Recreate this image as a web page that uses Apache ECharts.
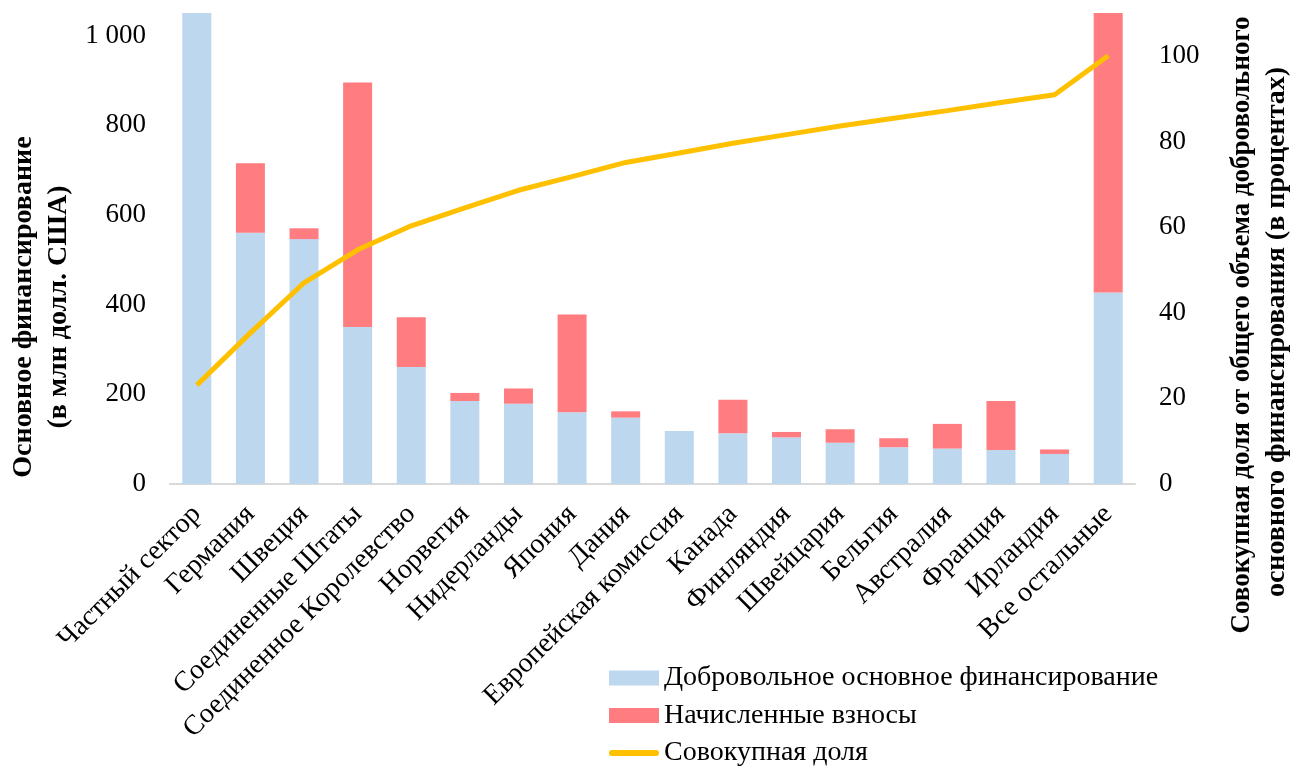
<!DOCTYPE html>
<html><head><meta charset="utf-8">
<script src="https://cdn.jsdelivr.net/npm/echarts@6/dist/echarts.min.js"></script>
<style>html,body{margin:0;padding:0;background:#fff}#c{width:1291px;height:766px}</style>
</head><body><div id="c"></div>
<script>
const categories = ['Частный сектор','Германия','Швеция','Соединенные Штаты','Соединенное Королевство','Норвегия','Нидерланды','Япония','Дания','Европейская комиссия','Канада','Финляндия','Швейцария','Бельгия','Австралия','Франция','Ирландия','Все остальные'];
const voluntary = [1060,560,546,350,261,185,179,160,148,118,113,104,92,82,79,76,67,427];
const assessed  = [0,155,24,545,111,18,34,218,14,0,75,12,30,20,55,109,10,680];
const cumulative = [23.1,35.3,47.0,54.7,60.3,64.5,68.6,71.8,75.1,77.3,79.6,81.6,83.6,85.4,87.2,89.1,90.9,100];
const leftTicks = {min:0,max:1050,interval:200};
const rightTicks = {min:0,max:110,interval:20};

const FONT = 'Liberation Serif';
const chart = echarts.init(document.getElementById('c'), null, {renderer:'canvas'});
chart.setOption({
  animation:false,
  textStyle:{fontFamily:FONT,color:'#000'},
  grid:{left:170,right:156,top:13,bottom:282},
  legend:{
    orient:'vertical', left:609, top:664, height:120, padding:0, itemWidth:50, itemHeight:15, itemGap:9.5,
    textStyle:{fontFamily:FONT,fontSize:28,color:'#000'},
    data:[{name:'Добровольное основное финансирование',icon:'rect'},{name:'Начисленные взносы',icon:'rect'},
          {name:'Совокупная доля',icon:'path://M3,0 L47,0 A3,3 0 0 1 47,6 L3,6 A3,3 0 0 1 3,0 Z'}]
  },
  xAxis:{type:'category',data:categories,
    axisLine:{lineStyle:{color:'#d9d9d9',width:2}},axisTick:{show:false},
    axisLabel:{rotate:45,interval:0,fontFamily:FONT,fontSize:28,color:'#000',margin:26}},
  yAxis:[
    {type:'value',min:leftTicks.min,max:leftTicks.max,interval:leftTicks.interval,splitLine:{show:false},
     axisLine:{show:false},axisTick:{show:false},
     axisLabel:{showMaxLabel:false,fontFamily:FONT,fontSize:27,color:'#000',margin:24,
       formatter:v=>v>=1000?String(v).replace(/\B(?=(\d{3})+(?!\d))/g,' '):String(v)}},
    {type:'value',min:rightTicks.min,max:rightTicks.max,interval:rightTicks.interval,splitLine:{show:false},
     axisLine:{show:false},axisTick:{show:false},
     axisLabel:{showMaxLabel:false,fontFamily:FONT,fontSize:27,color:'#000',margin:24}}
  ],
  series:[
    {name:'Добровольное основное финансирование',type:'bar',stack:'a',data:voluntary,barWidth:29,clip:true,
     itemStyle:{color:'#BDD7EE'}},
    {name:'Начисленные взносы',type:'bar',stack:'a',data:assessed,barWidth:29,clip:true,
     itemStyle:{color:'#FF7C80'}},
    {name:'Совокупная доля',type:'line',yAxisIndex:1,data:cumulative,symbol:'none',
     lineStyle:{color:'#FFC000',width:5},itemStyle:{color:'#FFC000'}}
  ],
  graphic:[
    {type:'text',x:24,y:307,rotation:Math.PI/2,style:{text:'Основное финансирование',font:'bold 28px "Liberation Serif"',fill:'#000',textAlign:'center',textVerticalAlign:'middle'}},
    {type:'text',x:59,y:307,rotation:Math.PI/2,style:{text:'(в млн долл. США)',font:'bold 28px "Liberation Serif"',fill:'#000',textAlign:'center',textVerticalAlign:'middle'}},
    {type:'text',x:1242,y:325,rotation:Math.PI/2,style:{text:'Совокупная доля от общего объема добровольного',font:'bold 27px "Liberation Serif"',fill:'#000',textAlign:'center',textVerticalAlign:'middle'}},
    {type:'text',x:1277,y:332,rotation:Math.PI/2,style:{text:'основного финансирования (в процентах)',font:'bold 28px "Liberation Serif"',fill:'#000',textAlign:'center',textVerticalAlign:'middle'}}
  ]
});
</script></body></html>
